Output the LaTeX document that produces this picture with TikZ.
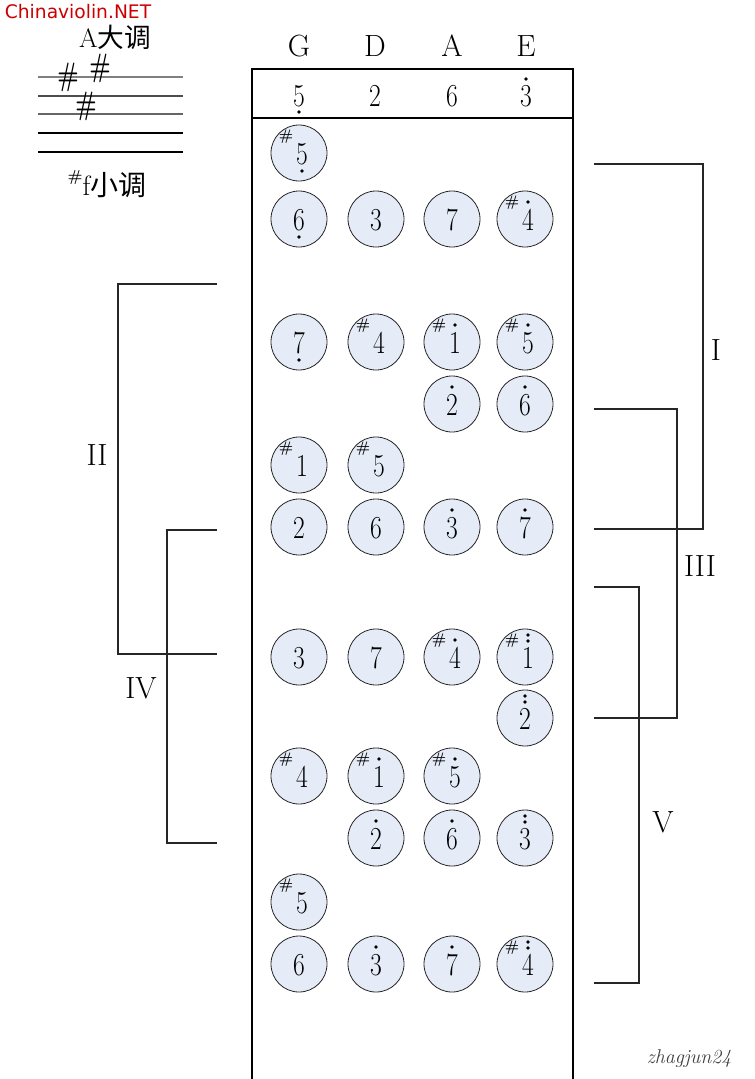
\documentclass[tikz,border=0pt]{standalone}
\usepackage{fontspec}
\usepackage{graphicx}
\usetikzlibrary{calc}
\newfontfamily\cjk{Noto Sans CJK SC}
\newfontfamily\dvs{DejaVu Sans}
\definecolor{notefill}{RGB}{230,236,247}
\definecolor{wmred}{RGB}{204,0,0}
\tikzset{
  notec/.style={circle,draw=black!85,line width=0.6pt,fill=notefill,minimum size=42pt,inner sep=0pt},
  dig/.style={inner sep=0pt,font=\fontsize{24}{24}\selectfont},
  shp/.style={inner sep=0pt,font=\fontsize{11.5}{11.5}\selectfont\bfseries},
  lbl/.style={inner sep=0pt,font=\fontsize{23}{23}\selectfont},
  brk/.style={line width=0.8pt,black!85},
  frame/.style={line width=1.3pt},
  staff/.style={line width=0.8pt},
  keysharp/.style={inner sep=0pt,font=\fontsize{18}{18}\selectfont\bfseries},
}
\newcommand\ndig[1]{\scalebox{0.8}[1]{#1}}
% #1 name, #2 x, #3 y, #4 sharp (0/1), #5 digit, #6 dots (-1 below, 0 none, 1 one above, 2 two above)
\newcommand\nt[6]{%
  \node[notec] (#1) at (#2,#3) {};
  \ifnum#4=1
    \node[shp] (#1s) at ($(#1)+(-13,-16)$) {\#};
    \node[dig] (#1d) at ($(#1)+(3,1)$) {\ndig{#5}};
  \else
    \node[dig] (#1d) at ($(#1)+(0,1)$) {\ndig{#5}};
  \fi
  \ifcase\numexpr#6+1\relax
    \fill ($(#1d)+(0,17)$) circle (1.4pt);
  \or
  \or
    \fill ($(#1d)+(0,-18)$) circle (1.4pt);
  \or
    \fill ($(#1d)+(0,-17)$) circle (1.4pt);
    \fill ($(#1d)+(0,-23)$) circle (1.4pt);
  \fi
}
\begin{document}
\begin{tikzpicture}[x=0.75pt,y=-0.75pt]
\useasboundingbox (0,0) rectangle (754,1079);

% watermark
\node[inner sep=0pt,text=wmred,font=\dvs\fontsize{14}{14}\selectfont] (wm) at (78,12) {Chinaviolin.NET};

% key signature
\node[inner sep=0pt,font=\fontsize{20}{20}\selectfont] (amaj) at (115,37) {A{\cjk 大调}};
\foreach \yy/\cc [count=\i] in {77/gray,96/black!70,114/gray!80!black,133/black,152/black}{
  \coordinate (sl\i) at (38,\yy);
  \coordinate (sr\i) at (183,\yy);
  \draw[staff,\cc] (sl\i) -- (sr\i);
}
\node[keysharp] (ks1) at (68,77) {\scalebox{0.95}[1.35]{\#}};
\node[keysharp] (ks2) at (100,68) {\scalebox{0.95}[1.35]{\#}};
\node[keysharp] (ks3) at (86,106) {\scalebox{0.95}[1.35]{\#}};
\node[inner sep=0pt,font=\fontsize{21}{21}\selectfont] (fmin) at (107,184) {\raisebox{0.5em}{\fontsize{12}{12}\selectfont\bfseries\#}f{\cjk 小调}};

% frame
\coordinate (tl) at (252,69);
\coordinate (tr) at (573,69);
\coordinate (bl) at (252,1080);
\coordinate (br) at (573,1080);
\coordinate (hl) at (252,118);
\coordinate (hr) at (573,118);
\draw[frame] (bl) -- (tl) -- (tr) -- (br);
\draw[frame] (hl) -- (hr);

% string names
\node[lbl] (sG) at (299,46) {G};
\node[lbl] (sD) at (375,46) {D};
\node[lbl] (sA) at (452,46) {A};
\node[lbl] (sE) at (526,46) {E};
% open strings
\node[dig] (o1) at (299,96) {\ndig{5}};
\fill ($(o1)+(0,16)$) circle (1.4pt);
\node[dig] (o2) at (375,96) {\ndig{2}};
\node[dig] (o3) at (452,96) {\ndig{6}};
\node[dig] (o4) at (526,96) {\ndig{3}};
\fill ($(o4)+(0,-17)$) circle (1.4pt);

% notes
\nt{a1}{299}{153}{1}{5}{-1}
\nt{b1}{299}{219}{0}{6}{-1}
\nt{b2}{376}{219}{0}{3}{0}
\nt{b3}{452}{219}{0}{7}{0}
\nt{b4}{525}{219}{1}{4}{1}
\nt{c1}{299}{342}{0}{7}{-1}
\nt{c2}{376}{342}{1}{4}{0}
\nt{c3}{452}{342}{1}{1}{1}
\nt{c4}{525}{342}{1}{5}{1}
\nt{d3}{452}{404}{0}{2}{1}
\nt{d4}{525}{404}{0}{6}{1}
\nt{e1}{299}{465}{1}{1}{0}
\nt{e2}{376}{465}{1}{5}{0}
\nt{f1}{299}{527}{0}{2}{0}
\nt{f2}{376}{527}{0}{6}{0}
\nt{f3}{452}{527}{0}{3}{1}
\nt{f4}{525}{527}{0}{7}{1}
\nt{g1}{299}{657}{0}{3}{0}
\nt{g2}{376}{657}{0}{7}{0}
\nt{g3}{452}{657}{1}{4}{1}
\nt{g4}{525}{657}{1}{1}{2}
\nt{h4}{525}{718}{0}{2}{2}
\nt{i1}{299}{776}{1}{4}{0}
\nt{i2}{376}{776}{1}{1}{1}
\nt{i3}{452}{776}{1}{5}{1}
\nt{j2}{376}{838}{0}{2}{1}
\nt{j3}{452}{838}{0}{6}{1}
\nt{j4}{525}{838}{0}{3}{2}
\nt{k1}{299}{902}{1}{5}{0}
\nt{l1}{299}{964}{0}{6}{0}
\nt{l2}{376}{964}{0}{3}{1}
\nt{l3}{452}{964}{0}{7}{1}
\nt{l4}{525}{964}{1}{4}{2}

% brackets right
\coordinate (I1) at (594,164); \coordinate (I2) at (703,164);
\coordinate (I3) at (703,529); \coordinate (I4) at (594,529);
\draw[brk] (I1) -- (I2) -- (I3) -- (I4);
\node[lbl] (lI) at (716,350) {I};
\coordinate (III1) at (594,409); \coordinate (III2) at (677,409);
\coordinate (III3) at (677,718); \coordinate (III4) at (594,718);
\draw[brk] (III1) -- (III2) -- (III3) -- (III4);
\node[lbl] (lIII) at (700,566) {III};
\coordinate (V1) at (594,587); \coordinate (V2) at (639,587);
\coordinate (V3) at (639,983); \coordinate (V4) at (594,983);
\draw[brk] (V1) -- (V2) -- (V3) -- (V4);
\node[lbl] (lV) at (663,822) {V};

% brackets left
\coordinate (II1) at (217,284); \coordinate (II2) at (118,284);
\coordinate (II3) at (118,654); \coordinate (II4) at (217,654);
\draw[brk] (II1) -- (II2) -- (II3) -- (II4);
\node[lbl] (lII) at (97,455) {II};
\coordinate (IV1) at (217,530); \coordinate (IV2) at (167,530);
\coordinate (IV3) at (167,843); \coordinate (IV4) at (217,843);
\draw[brk] (IV1) -- (IV2) -- (IV3) -- (IV4);
\node[lbl] (lIV) at (141,688) {IV};

% signature
\node[inner sep=0pt,text=black!75,font=\itshape\fontsize{15}{15}\selectfont] (sig) at (689,1059) {zhagjun24};
\end{tikzpicture}
\end{document}
